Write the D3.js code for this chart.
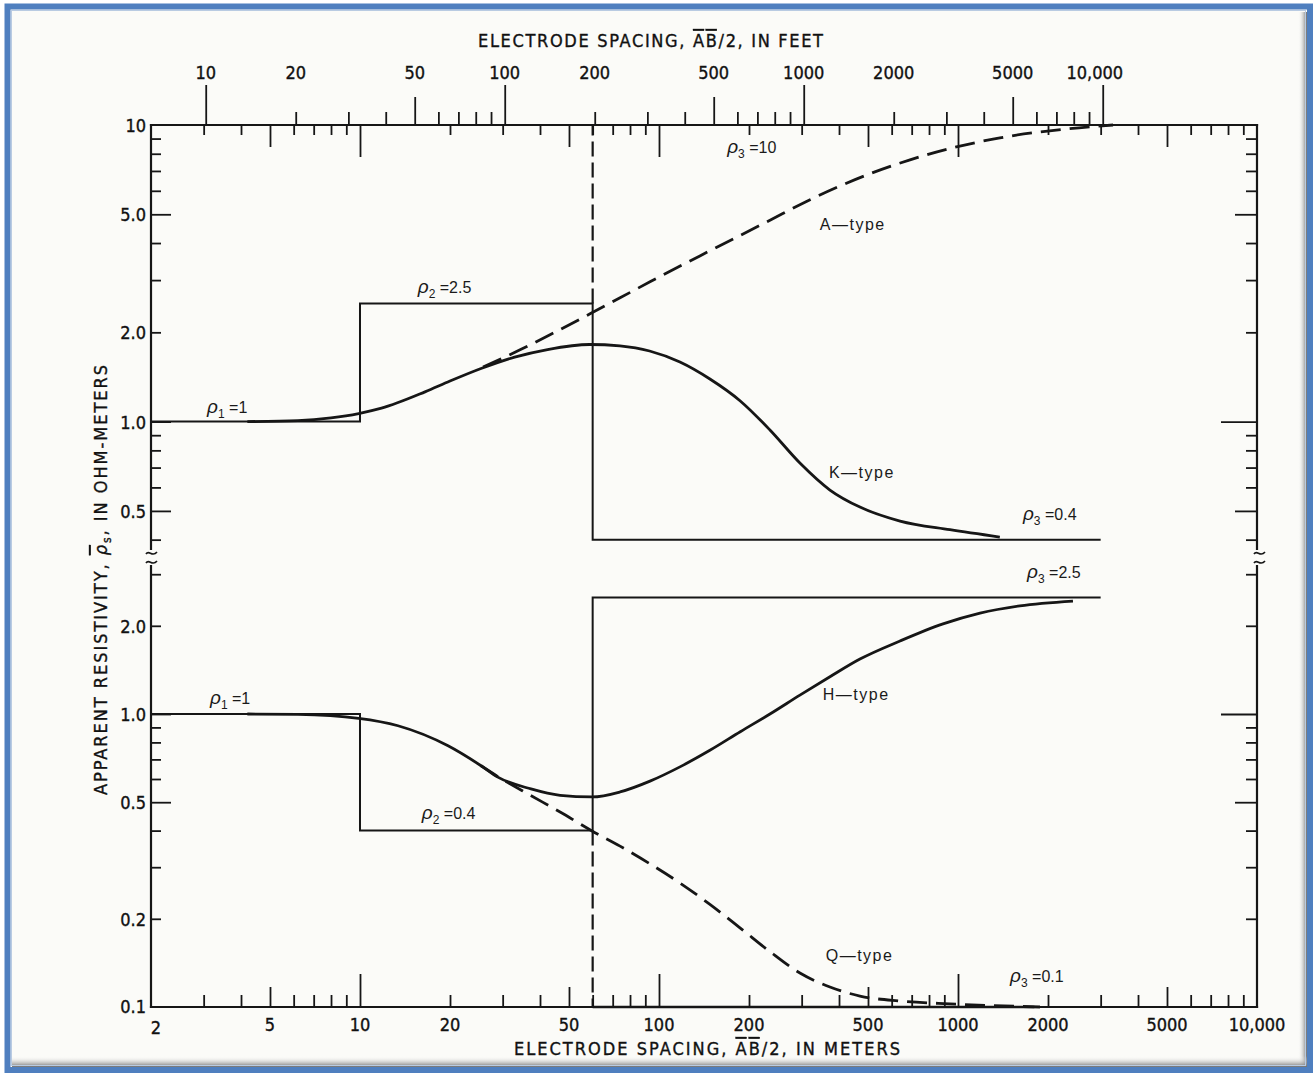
<!DOCTYPE html>
<html lang="en">
<head>
<meta charset="utf-8" />
<title>Three-layer sounding curves</title>
<script src="https://d3js.org/d3.v7.min.js"></script>
<style>
  body { margin: 0; background: #fff; }
  .ax { font-family: "DejaVu Sans Condensed", "DejaVu Sans", sans-serif; font-stretch: condensed; fill: #111; stroke: #111; stroke-width: 0.35px; }
  .lbl { font-family: "Liberation Sans", Arial, sans-serif; fill: #1a1a1a; }
</style>
</head>
<body>
<script>
// tick labels
const meterLabels = [2, 5, 10, 20, 50, 100, 200, 500, 1000, 2000, 5000, 10000];
const feetLabels = [10, 20, 50, 100, 200, 500, 1000, 2000, 5000, 10000];
const upperLabels = [10, 5, 2, 1, 0.5];
const lowerLabels = [2, 1, 0.5, 0.2, 0.1];

// layer models: [AB/2 in meters, resistivity in ohm-m]
const upperModel = [[2, 1], [10, 1], [10, 2.5], [60, 2.5], [60, 0.4], [3000, 0.4]];
const upperStepA = [[60, 2.5], [60, 10]];
const rho3A = [[60, 10], [3000, 10]];
const lowerModel = [[2, 1], [10, 1], [10, 0.4], [60, 0.4], [60, 2.5], [3000, 2.5]];
const lowerStepQ = [[60, 0.4], [60, 0.1]];
const rho3Q = [[60, 0.1], [1800, 0.1]];

// apparent resistivity curves
const kCurve = [[4.2, 1.0], [6.2, 1.008], [8, 1.03], [9.9, 1.065], [11.8, 1.11], [16.5, 1.26], [20, 1.37],
  [25.4, 1.51], [32.9, 1.65], [42.4, 1.75], [58.6, 1.82], [74, 1.8], [93, 1.73], [117.5, 1.588], [148, 1.392],
  [187, 1.174], [235, 0.937], [296, 0.725], [373, 0.588], [470, 0.515], [640, 0.462], [940, 0.432], [1380, 0.408]];
const aCurve = [[25.8, 1.528], [34.3, 1.746], [43.2, 1.962], [58.8, 2.309], [74.1, 2.615], [93.3, 2.96], [137, 3.62],
  [230, 4.72], [320, 5.6], [496, 6.79], [691, 7.63], [962, 8.38], [1381, 9.05], [2314, 9.7], [3300, 10]];
const hCurve = [[4.2, 1.0], [6.2, 0.997], [9.9, 0.967], [13.4, 0.912], [19.7, 0.779], [25.4, 0.666], [28.9, 0.609],
  [37.3, 0.555], [46.7, 0.528], [59.7, 0.521], [74.1, 0.542], [93.3, 0.59], [117.5, 0.66], [148, 0.752], [187, 0.87],
  [235, 1.0], [296, 1.16], [373, 1.34], [470, 1.54], [640, 1.775], [891, 2.03], [1185, 2.21], [1610, 2.34], [2424, 2.43]];
const qCurve = [[25.4, 0.666], [29.4, 0.605], [37, 0.529], [46.7, 0.463], [59.7, 0.399], [74.1, 0.354], [93.3, 0.308],
  [117.5, 0.265], [148, 0.224], [187, 0.186], [235, 0.1545], [296, 0.1306], [373, 0.117], [470, 0.109], [640, 0.1048],
  [940, 0.1025], [1880, 0.1]];

// annotations, anchored in data units (start of text, baseline)
const notes = [
  { panel: "up", m: 3.08, v: 1.07, sub: "1", val: "1" },
  { panel: "up", m: 15.6, v: 2.71, sub: "2", val: "2.5" },
  { panel: "up", m: 169, v: 8.05, sub: "3", val: "10" },
  { panel: "up", m: 345, v: 4.43, name: "A\u2014type" },
  { panel: "up", m: 370, v: 0.645, name: "K\u2014type" },
  { panel: "up", m: 1649, v: 0.466, sub: "3", val: "0.4" },
  { panel: "lo", m: 1702, v: 2.91, sub: "3", val: "2.5" },
  { panel: "lo", m: 3.15, v: 1.08, sub: "1", val: "1" },
  { panel: "lo", m: 16.1, v: 0.438, sub: "2", val: "0.4" },
  { panel: "lo", m: 353, v: 1.12, name: "H\u2014type" },
  { panel: "lo", m: 361, v: 0.143, name: "Q\u2014type" },
  { panel: "lo", m: 1493, v: 0.122, sub: "3", val: "0.1" }
];

const W = 1314, H = 1074;
const ink = "#161616";

const svg = d3.select("body").append("svg").attr("width", W).attr("height", H);

// frame
const defs = svg.append("defs");
const gr = defs.append("linearGradient").attr("id", "shR").attr("x1", 0).attr("x2", 1).attr("y1", 0).attr("y2", 0);
gr.append("stop").attr("offset", 0).attr("stop-color", "#ffffff").attr("stop-opacity", 0);
gr.append("stop").attr("offset", 1).attr("stop-color", "#6f6f6f");
const gb = defs.append("linearGradient").attr("id", "shB").attr("x1", 0).attr("x2", 0).attr("y1", 0).attr("y2", 1);
gb.append("stop").attr("offset", 0).attr("stop-color", "#ffffff").attr("stop-opacity", 0);
gb.append("stop").attr("offset", 1).attr("stop-color", "#6f6f6f");

svg.append("rect").attr("width", W).attr("height", H).attr("fill", "#ffffff");
svg.append("rect").attr("x", 10).attr("y", 9).attr("width", 1297).attr("height", 1058).attr("fill", "#fbfbf8");
svg.append("rect").attr("x", 1298).attr("y", 12).attr("width", 9).attr("height", 1055).attr("fill", "url(#shR)");
svg.append("rect").attr("x", 12).attr("y", 1056).attr("width", 1295).attr("height", 11).attr("fill", "url(#shB)");
svg.append("rect").attr("x", 11.5).attr("y", 10.5).attr("width", 1294).attr("height", 1055)
  .attr("fill", "none").attr("stroke", "#b9cbe2").attr("stroke-width", 1);
svg.append("rect").attr("x", 7.5).attr("y", 6.5).attr("width", 1302.5).attr("height", 1063.5)
  .attr("fill", "none").attr("stroke", "#4f7fbf").attr("stroke-width", 6);

// scales
const x = d3.scaleLog().domain([2, 10000]).range([151, 1257]);
const xFt = d3.scaleLog().domain([2 / 0.3048, 10000 / 0.3048]).range([151, 1257]);
const yUp = d3.scaleLog().domain([0.372, 10]).range([549, 125]);
const yLo = d3.scaleLog().domain([0.1, 3.2]).range([1007, 566]);

const isDecade = d => Math.abs(Math.log10(d) - Math.round(Math.log10(d))) < 1e-6;
const isFive = d => Math.abs(d / Math.pow(10, Math.floor(Math.log10(d) + 1e-9)) - 5) < 1e-6;

function tickSet(g, axis, values, size) {
  g.call(axis.tickValues(values).tickSize(size).tickFormat(""))
    .call(s => s.select(".domain").remove())
    .call(s => s.selectAll("line").attr("stroke", ink).attr("stroke-width", 1.8));
}

function ticksBy(parent, tr, makeAxis, scale, vals, sizeOf) {
  const groups = d3.group(vals, sizeOf);
  groups.forEach((v, size) => {
    parent.append("g").attr("transform", tr).call(tickSet, makeAxis(scale), v, size);
  });
}

const axes = svg.append("g");

// axis lines
const axisLines = [
  [151, 125, 1257, 125], [151, 1007, 1257, 1007],
  [151, 125, 151, 549], [151, 566, 151, 1007],
  [1257, 125, 1257, 549], [1257, 566, 1257, 1007]
];
axes.selectAll("line.frame").data(axisLines).join("line").attr("class", "frame")
  .attr("x1", d => d[0]).attr("y1", d => d[1]).attr("x2", d => d[2]).attr("y2", d => d[3])
  .attr("stroke", ink).attr("stroke-width", 2.2).attr("stroke-linecap", "square");

// break marks
[[151, 553], [151, 562], [1259, 553], [1259, 562]].forEach(([bx, by]) => {
  axes.append("path")
    .attr("d", `M${bx - 5},${by + 1} C${bx - 2},${by - 4} ${bx + 1},${by + 5} ${bx + 6},${by - 1}`)
    .attr("fill", "none").attr("stroke", ink).attr("stroke-width", 1.6);
});

// x ticks, meters
const mTicks = x.ticks().filter(d => d > 2 && d < 10000);
ticksBy(axes, `translate(0,${yLo(0.1)})`, d3.axisTop, x, mTicks, d => isDecade(d) ? 33 : isFive(d) ? 20 : 12);
ticksBy(axes, `translate(0,${yUp(10)})`, d3.axisBottom, x, mTicks, d => isDecade(d) ? 32 : isFive(d) ? 22 : 10);
// feet ticks above the top
const ftTicks = xFt.ticks().filter(d => d >= 10 && d <= 10000);
ticksBy(axes, `translate(0,${yUp(10)})`, d3.axisTop, xFt, ftTicks, d => isDecade(d) ? 40 : isFive(d) ? 28 : 13);

// y ticks
const upTicks = yUp.ticks().filter(d => d < 10);
const loTicks = yLo.ticks().filter(d => d > 0.1);
ticksBy(axes, "translate(151,0)", d3.axisRight, yUp, upTicks, d => (isFive(d) || isDecade(d)) ? 20 : 10);
ticksBy(axes, "translate(1257,0)", d3.axisLeft, yUp, upTicks, d => isDecade(d) ? 36 : isFive(d) ? 22 : 11);
ticksBy(axes, "translate(151,0)", d3.axisRight, yLo, loTicks, d => (isFive(d) || isDecade(d)) ? 20 : 10);
ticksBy(axes, "translate(1257,0)", d3.axisLeft, yLo, loTicks, d => isDecade(d) ? 36 : isFive(d) ? 22 : 11);

// tick labels
const fmtX = d => d === 10000 ? "10,000" : String(d);
const fmtY = d => d >= 10 ? "10" : d3.format(".1f")(d);

axes.append("g").selectAll("text").data(meterLabels).join("text").attr("class", "ax")
  .attr("x", d => d === 2 ? x(d) + 5 : x(d)).attr("y", d => d === 2 ? 1034 : 1031)
  .attr("text-anchor", "middle").attr("font-size", 18).text(fmtX);
axes.append("g").selectAll("text").data(feetLabels).join("text").attr("class", "ax")
  .attr("x", d => d === 10000 ? xFt(d) - 8 : xFt(d)).attr("y", 79)
  .attr("text-anchor", "middle").attr("font-size", 18).text(fmtX);
axes.append("g").selectAll("text").data(upperLabels).join("text").attr("class", "ax")
  .attr("x", 146).attr("y", d => yUp(d) + 7)
  .attr("text-anchor", "end").attr("font-size", 18).text(fmtY);
axes.append("g").selectAll("text").data(lowerLabels).join("text").attr("class", "ax")
  .attr("x", 146).attr("y", d => d === 0.1 ? yLo(d) + 6 : yLo(d) + 7)
  .attr("text-anchor", "end").attr("font-size", 18).text(fmtY);

// axis titles
function spacingTitle(tx, ty, len, unit) {
  const t = axes.append("text").attr("class", "ax").attr("x", tx).attr("y", ty)
    .attr("font-size", 18).attr("textLength", len).attr("lengthAdjust", "spacing");
  t.append("tspan").text("ELECTRODE SPACING, ");
  t.append("tspan").style("text-decoration", "overline").text("AB");
  t.append("tspan").text("/2, IN " + unit);
}
spacingTitle(478, 47, 345, "FEET");
spacingTitle(514, 1055, 386, "METERS");

const yt = axes.append("text").attr("class", "ax")
  .attr("transform", "translate(107,580) rotate(-90)")
  .attr("text-anchor", "middle").attr("font-size", 18)
  .attr("textLength", 430).attr("lengthAdjust", "spacing");
yt.append("tspan").text("APPARENT RESISTIVITY, ");
yt.append("tspan").style("text-decoration", "overline").style("font-style", "italic").text("\u03c1");
yt.append("tspan").attr("dy", 4).attr("font-size", 12).text("s");
yt.append("tspan").attr("dy", -4).text(", IN OHM-METERS");

// layer models and curves
const plot = svg.append("g");
const lineUp = d3.line().x(d => x(d[0])).y(d => yUp(d[1]));
const lineLo = d3.line().x(d => x(d[0])).y(d => yLo(d[1]));
const smoothUp = d3.line().x(d => x(d[0])).y(d => yUp(d[1])).curve(d3.curveMonotoneX);
const smoothLo = d3.line().x(d => x(d[0])).y(d => yLo(d[1])).curve(d3.curveMonotoneX);

function draw(data, gen, width, dash) {
  plot.append("path").attr("d", gen(data)).attr("fill", "none").attr("stroke", ink)
    .attr("stroke-width", width).attr("stroke-dasharray", dash || null)
    .attr("stroke-linejoin", "miter");
}

draw(upperModel, lineUp, 2);
draw(rho3A, lineUp, 2);
draw(upperStepA, lineUp, 2.2, "15,6");
draw(lowerModel, lineLo, 2);
draw(rho3Q, lineLo, 2.4);
draw(lowerStepQ, lineLo, 2.2, "15,6");

draw(kCurve, smoothUp, 2.8);
draw(aCurve, smoothUp, 2.8, "20,9");
draw(hCurve, smoothLo, 2.8);
draw(qCurve, smoothLo, 2.8, "20,9");

// annotations
const notesG = svg.append("g");
notes.forEach(n => {
  const yy = n.panel === "up" ? yUp(n.v) : yLo(n.v);
  const t = notesG.append("text").attr("class", "lbl").attr("x", x(n.m)).attr("y", yy).attr("font-size", 16);
  if (n.name) {
    t.attr("letter-spacing", 1.5).text(n.name);
  } else {
    t.append("tspan").attr("font-style", "italic").attr("font-size", 19).text("\u03c1");
    t.append("tspan").attr("dy", 5).attr("font-size", 12).text(n.sub);
    t.append("tspan").attr("dy", -5).text(" =" + n.val);
  }
});
</script>
</body>
</html>
